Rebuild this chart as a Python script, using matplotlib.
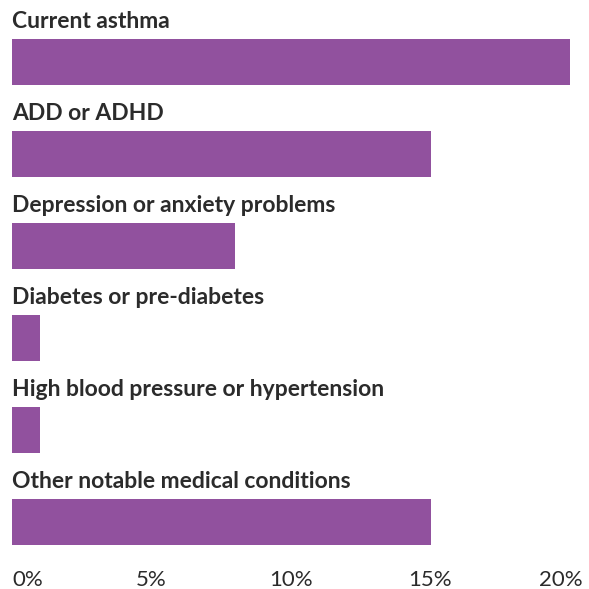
import numpy as np
import matplotlib
matplotlib.use("Agg")
import matplotlib.pyplot as plt
import matplotlib.ticker as mtick
from matplotlib.transforms import ScaledTranslation

plt.rcParams['font.family'] = ['Lato', 'DejaVu Sans']

conditions = ['Current asthma', 'ADD or ADHD', 'Depression or anxiety problems',
              'Diabetes or pre-diabetes', 'High blood pressure or hypertension',
              'Other notable medical conditions']
percent = [20.0, 15.0, 8.0, 1.0, 1.0, 15.0]
ticks = [0, 5, 10, 15, 20]

bar_color = '#91519e'
text_color = '#2b2b2b'

W, H = 589, 589
fig = plt.figure(figsize=(W / 100, H / 100), dpi=100)
# pixel layout: 0% at x=12, ~27.9 px per percent; rows every 92 px
x0, ppu = 12, 27.9
xmax = 20.5
ax = fig.add_axes([x0 / W, (H - 560) / H, xmax * ppu / W, 560 / H])

y = np.arange(len(conditions))
ax.barh(y, percent, height=0.5, color=bar_color)
ax.set_xlim(0, xmax)
ax.set_ylim(5.413, -0.674)

for yi, name in zip(y, conditions):
    ax.text(0, yi - 0.365, name, fontsize=16.5, fontweight='bold',
            color=text_color, ha='left', va='baseline')

ax.set_xticks(ticks)
ax.xaxis.set_major_formatter(mtick.StrMethodFormatter('{x:.0f}%'))
ax.tick_params(axis='x', length=0, pad=7, labelsize=16, labelcolor=text_color)
ax.set_yticks([])
labels = ax.get_xticklabels()
labels[0].set_horizontalalignment('left')
labels[-1].set_transform(labels[-1].get_transform()
                         + ScaledTranslation(-0.09, 0, fig.dpi_scale_trans))
for s in ax.spines.values():
    s.set_visible(False)

fig.savefig('out.png', dpi=100)
